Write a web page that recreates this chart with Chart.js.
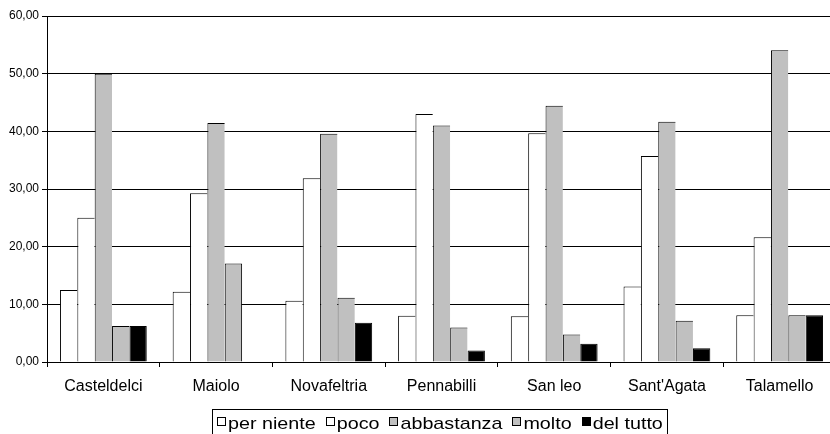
<!DOCTYPE html>
<html>
<head>
<meta charset="utf-8">
<script src="https://cdn.jsdelivr.net/npm/chart.js@4/dist/chart.umd.min.js"></script>
<style>
  html, body { margin: 0; padding: 0; background: #fff; overflow: hidden; }
  #wrap { width: 840px; height: 434px; }
</style>
</head>
<body>
<div id="wrap"><canvas id="c" width="840" height="434"></canvas></div>
<script>
// Municipalities
const categories = ['Casteldelci', 'Maiolo', 'Novafeltria', 'Pennabilli', 'San leo', "Sant'Agata", 'Talamello'];

// Percentage of answers per level
const perNiente  = [12.50, 12.20, 10.60,  8.00,  7.94, 13.10,  8.11];
const poco       = [25.00, 29.27, 31.85, 43.00, 39.68, 35.71, 21.62];
const abbastanza = [50.00, 41.46, 39.60, 41.00, 44.44, 41.67, 54.05];
const molto      = [ 6.25, 17.07, 11.15,  6.00,  4.76,  7.14,  8.11];
const delTutto   = [ 6.25,  0.00,  6.80,  2.00,  3.17,  2.38,  8.11];

// Value axis ticks
const yTicks = [0, 10, 20, 30, 40, 50, 60];

const seriesNames  = ['per niente', 'poco', 'abbastanza', 'molto', 'del tutto'];
const seriesValues = [perNiente, poco, abbastanza, molto, delTutto];
const seriesFill   = ['#ffffff', '#ffffff', '#c0c0c0', '#c0c0c0', '#000000'];

const FONT = '"Liberation Sans", Arial, sans-serif';

const datasets = seriesNames.map((name, i) => ({
  label: name,
  data: seriesValues[i],
  backgroundColor: seriesFill[i],
  borderColor: '#000000',
  // neighbouring bars share one outline: draw the right edge only where no bar follows
  borderWidth: (ctx) => {
    const next = seriesValues[i + 1];
    const right = (!next || !next[ctx.dataIndex]) ? 1 : 0;
    return { top: 1, left: 1, right: right, bottom: 0 };
  },
  borderSkipped: false,
  categoryPercentage: 0.77,
  barPercentage: 1.0
}));

// Boxed legend under the axis labels
const boxedLegend = {
  id: 'boxedLegend',
  afterDraw(chart) {
    const ctx = chart.ctx;
    const sx = 1.16;
    const fontSize = 17;
    const boxTop = 409.5;
    const boxLeft = 212.5;
    const sq = 8;
    ctx.save();
    ctx.font = fontSize + 'px ' + FONT;
    let x = boxLeft + 4.5;
    const items = chart.data.datasets.map(ds => {
      const w = ctx.measureText(ds.label).width * sx;
      const it = { ds, x, w };
      x += sq + 3 + w + 10;
      return it;
    });
    const boxRight = x - 10 + 5;
    ctx.strokeStyle = '#000';
    ctx.lineWidth = 1;
    ctx.strokeRect(boxLeft, boxTop, Math.round(boxRight - boxLeft), 30);
    items.forEach(it => {
      const sxp = Math.round(it.x) + 0.5;
      ctx.fillStyle = it.ds.backgroundColor;
      ctx.fillRect(sxp, 417.5, sq, sq);
      ctx.strokeStyle = '#000';
      ctx.strokeRect(sxp, 417.5, sq, sq);
      ctx.save();
      ctx.translate(it.x + sq + 3, 429);
      ctx.scale(sx, 1);
      ctx.fillStyle = '#000';
      ctx.textBaseline = 'alphabetic';
      ctx.textAlign = 'left';
      ctx.fillText(it.ds.label, 0, 0);
      ctx.restore();
    });
    ctx.restore();
  }
};

new Chart(document.getElementById('c'), {
  type: 'bar',
  data: { labels: categories, datasets },
  options: {
    responsive: false,
    devicePixelRatio: 1,
    animation: false,
    layout: { padding: { top: 16, right: 4, bottom: 0, left: 0 } },
    plugins: {
      legend: { display: false },
      tooltip: { enabled: false }
    },
    scales: {
      x: {
        offset: true,
        grid: {
          offset: true,
          drawOnChartArea: false,
          drawTicks: true,
          tickLength: 5,
          color: '#000'
        },
        border: { display: true, color: '#000', width: 1 },
        ticks: {
          color: '#000',
          font: { family: FONT, size: 16 },
          padding: 10,
          maxRotation: 0,
          autoSkip: false
        },
        afterFit: (scale) => { scale.height = 72; }
      },
      y: {
        min: 0,
        max: 60,
        afterBuildTicks: (scale) => { scale.ticks = yTicks.map(v => ({ value: v })); },
        grid: {
          color: '#000',
          lineWidth: 1,
          drawTicks: true,
          tickLength: 5
        },
        border: { display: true, color: '#000', width: 1 },
        ticks: {
          color: '#000',
          font: { family: FONT, size: 12 },
          padding: 3,
          callback: (v) => Number(v).toFixed(2).replace('.', ',')
        },
        afterFit: (scale) => { scale.width = 47; }
      }
    }
  },
  plugins: [boxedLegend]
});
</script>
</body>
</html>
